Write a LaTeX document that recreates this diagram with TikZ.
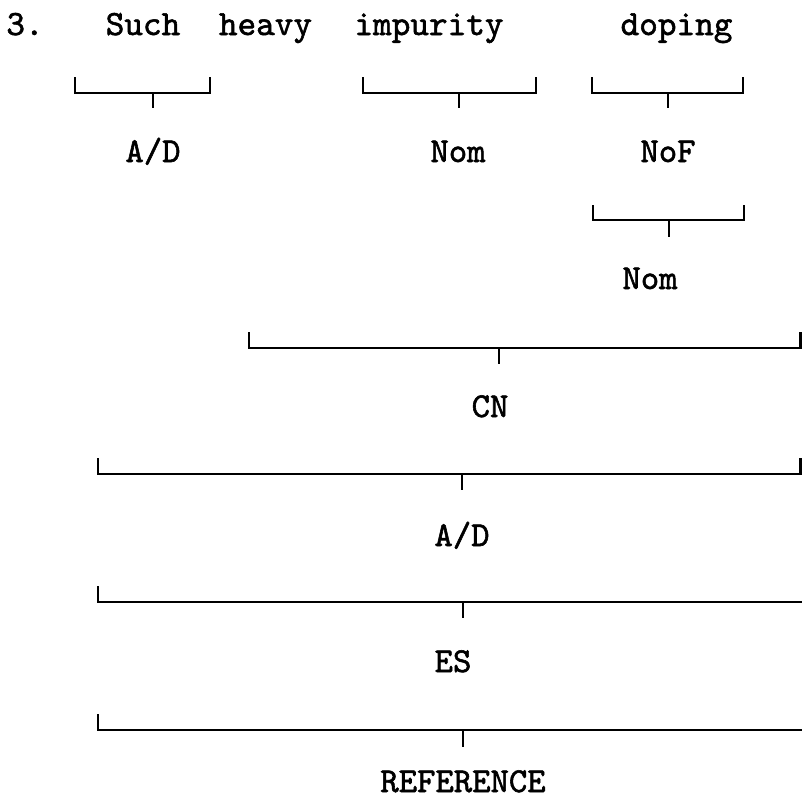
\documentclass[tikz,border=0pt]{standalone}
\usepackage{fontspec}
\newfontfamily\typewriter{lmmono10-regular.otf}[FakeBold=1.6]
\begin{document}
\begin{tikzpicture}[x=1pt,y=-1pt,
  word/.style={anchor=base,inner sep=0pt,font=\typewriter\fontsize{35.5}{35.5}\selectfont},
  cat/.style={anchor=base,inner sep=0pt,font=\typewriter\fontsize{35}{35}\selectfont},
  brk/.style={line width=2.2pt,line cap=butt,line join=miter},
  tick/.style={line width=2pt}]
\useasboundingbox (0,0) rectangle (802,801);

% the sentence
\node[word] (num)  at (25,35)    {3.};
\node[word] (such) at (143,35)   {Such};
\node[word] (heavy) at (265.5,35) {heavy};
\node[word] (impurity) at (429,35) {impurity};
\node[word] (doping) at (676.5,35) {doping};

% category labels
\node[cat] (ad1)  at (153,162) {A/D};
\node[cat] (nom1) at (458,162) {Nom};
\node[cat] (nof)  at (668,162) {NoF};
\node[cat] (nom2) at (650,289) {Nom};
\node[cat] (cn)   at (490,417) {CN};
\node[cat] (ad2)  at (462,546) {A/D};
\node[cat] (es)   at (453,672) {ES};
\node[cat] (ref)  at (463,792) {REFERENCE};

% bracket: left x, right x, top y, line y, tick x, tick bottom, name
\newcommand{\bracketat}[7]{%
  \coordinate (#7-l) at (#1,#3);
  \coordinate (#7-r) at (#2,#3);
  \coordinate (#7-t) at (#5,#4);
  \draw[brk] (#7-l) |- (#2,#4) -- (#7-r);
  \draw[tick] (#7-t) -- (#5,#6);}
\newcommand{\openbracketat}[7]{%
  \coordinate (#7-l) at (#1,#3);
  \coordinate (#7-t) at (#5,#4);
  \draw[brk] (#7-l) |- (#2,#4);
  \draw[tick] (#7-t) -- (#5,#6);}

\bracketat{75}{210}{77}{93}{153}{108}{b1}
\bracketat{363}{536}{77}{93}{459}{108}{b2}
\bracketat{592}{743}{77}{93}{668}{108}{b3}
\bracketat{593}{744}{205}{220}{669}{237}{b4}
\bracketat{249}{800.5}{332}{348}{499}{364}{b5}
\bracketat{98}{800.5}{458}{474}{462}{490}{b6}
\openbracketat{98}{802}{586}{602}{463}{618}{b7}
\openbracketat{98}{802}{714}{730}{463}{747}{b8}
\end{tikzpicture}
\end{document}
